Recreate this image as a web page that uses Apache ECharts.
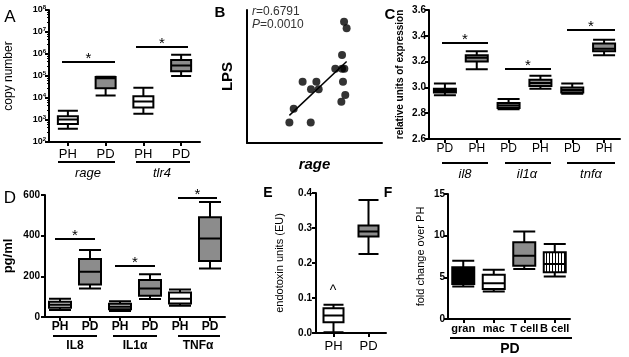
<!DOCTYPE html>
<html>
<head>
<meta charset="utf-8">
<script src="https://cdn.jsdelivr.net/npm/echarts@6/dist/echarts.min.js"></script>
<style>
  html, body { margin: 0; padding: 0; background: #fff; }
  #chart { width: 629px; height: 357px; }
</style>
</head>
<body>
<div id="chart"></div>
<script>
// panel A: copy number (log)
const aCategories = ['PH', 'PD', 'PH', 'PD'];
const aBoxes = [
  [400, 650, 1050, 1500, 2600],
  [13000, 28000, 80000, 90000, 92000],
  [1900, 3700, 7000, 12000, 29000],
  [100000, 165000, 300000, 530000, 930000]
];
const aGroups = ['rage', 'tlr4'];

// panel B: LPS vs rage scatter
const bRage = [31.4, 34.6, 41.2, 47.4, 51.4, 53.1, 47.2, 65.4, 70.4, 72.1, 70.4, 71.1, 69.9, 72.8, 71.9, 73.8];
const bLps = [15.5, 25.75, 46, 40.5, 46, 40.5, 15.5, 55.75, 55.75, 55.75, 66.25, 46, 31, 36, 91.25, 86.25];

// panel C: relative units of expression
const cCategories = ['PD', 'PH', 'PD', 'PH', 'PD', 'PH'];
const cBoxes = [
  [2.94, 2.96, 2.975, 2.99, 3.03],
  [3.14, 3.20, 3.23, 3.25, 3.28],
  [2.83, 2.84, 2.86, 2.88, 2.91],
  [2.99, 3.01, 3.035, 3.06, 3.09],
  [2.95, 2.96, 2.98, 3.00, 3.03],
  [3.25, 3.28, 3.30, 3.34, 3.37]
];
const cGroups = ['il8', 'il1α', 'tnfα'];

// panel D: pg/ml
const dCategories = ['PH', 'PD', 'PH', 'PD', 'PH', 'PD'];
const dBoxes = [
  [35, 45, 60, 75, 90],
  [140, 160, 222, 285, 330],
  [30, 38, 50, 65, 78],
  [88, 104, 140, 182, 210],
  [55, 67, 90, 120, 135],
  [238, 275, 386, 490, 565]
];
const dGroups = ['IL8', 'IL1α', 'TNFα'];

// panel E: endotoxin units
const eCategories = ['PH', 'PD'];
const eBoxes = [
  [0.002, 0.031, 0.05, 0.071, 0.081],
  [0.226, 0.276, 0.29, 0.307, 0.380]
];

// panel F: fold change over PH
const fCategories = ['gran', 'mac', 'T cell', 'B cell'];
const fBoxes = [
  [3.9, 4.2, 5.3, 6.2, 7.0],
  [3.3, 3.6, 4.3, 5.3, 5.9],
  [6.0, 6.4, 7.6, 9.2, 10.5],
  [5.1, 5.6, 6.6, 8.0, 9.0]
];

const FONT = 'Liberation Sans';
const GRAY = '#8c8c8c';

// vertical stripe fill for B cell
const stripe = document.createElement('canvas');
stripe.width = 3; stripe.height = 3;
const sctx = stripe.getContext('2d');
sctx.fillStyle = '#fff'; sctx.fillRect(0, 0, 3, 3);
sctx.fillStyle = '#000'; sctx.fillRect(0, 0, 1, 3);

function boxItems(boxes, colors) {
  return boxes.map((b, i) => ({ value: b, itemStyle: { color: colors[i] } }));
}

// least squares fit for B
const n = bRage.length;
const mx = bRage.reduce((s, v) => s + v, 0) / n;
const my = bLps.reduce((s, v) => s + v, 0) / n;
let sxy = 0, sxx = 0;
for (let i = 0; i < n; i++) { sxy += (bRage[i] - mx) * (bLps[i] - my); sxx += (bRage[i] - mx) ** 2; }
const slope = sxy / sxx, icpt = my - slope * mx;
const xMin = Math.min(...bRage), xMax = Math.max(...bRage);
const fitLine = [[xMin, icpt + slope * xMin], [xMax, icpt + slope * xMax]];

const axisLine = { show: true, lineStyle: { color: '#000', width: 2 } };
const tick = { show: true, length: 4, lineStyle: { color: '#000', width: 2 } };
const boldTick = { fontFamily: FONT, fontWeight: 'bold', fontSize: 10, color: '#000' };

function catAxis(grid, data, label) {
  return {
    type: 'category', gridIndex: grid, data: data,
    axisLine: axisLine, axisTick: Object.assign({ alignWithLabel: true, interval: 0 }, tick),
    axisLabel: Object.assign({ color: '#000', fontFamily: FONT, interval: 0 }, label),
    splitLine: { show: false }
  };
}
function valAxis(grid, opts) {
  return Object.assign({
    type: 'value', gridIndex: grid,
    axisLine: axisLine, axisTick: tick,
    splitLine: { show: false },
    nameLocation: 'middle', nameRotate: 90,
    nameTextStyle: { color: '#000', fontFamily: FONT }
  }, opts);
}

const boxBase = { type: 'boxplot', boxWidth: [20, 22], itemStyle: { borderColor: '#000', borderWidth: 2 } };

const option = {
  animation: false,
  textStyle: { fontFamily: FONT },
  grid: [
    { left: 49, top: 10, width: 151, height: 132 },
    { left: 247, top: 10, width: 135, height: 133 },
    { left: 429, top: 10, width: 191, height: 129 },
    { left: 45, top: 195, width: 180, height: 122 },
    { left: 316, top: 193, width: 70, height: 140 },
    { left: 448, top: 194, width: 122, height: 125 }
  ],
  xAxis: [
    catAxis(0, aCategories, { fontSize: 13, margin: 6 }),
    { type: 'value', gridIndex: 1, min: 0, max: 100, axisLine: axisLine, axisTick: { show: false },
      axisLabel: { show: false }, splitLine: { show: false },
      name: 'rage', nameLocation: 'middle', nameGap: 14,
      nameTextStyle: { fontFamily: FONT, fontSize: 15, fontWeight: 'bold', fontStyle: 'italic', color: '#000' } },
    catAxis(2, cCategories, { fontSize: 12, margin: 4 }),
    catAxis(3, dCategories, { fontSize: 12, fontWeight: 'bold', margin: 4 }),
    catAxis(4, eCategories, { fontSize: 13, margin: 7 }),
    catAxis(5, fCategories, { fontSize: 11, fontWeight: 'bold', margin: 4 })
  ],
  yAxis: [
    valAxis(0, {
      type: 'log', logBase: 10, min: 100, max: 1e8, interval: 1,
      minorTick: { show: true, splitNumber: 5, length: 2, lineStyle: { color: '#000' } },
      name: 'copy number', nameGap: 34, nameTextStyle: { color: '#000', fontFamily: FONT, fontSize: 12 },
      axisLabel: {
        margin: 3,
        formatter: v => '{b|10}{s|' + Math.round(Math.log(v) / Math.LN10) + '}',
        rich: {
          b: { fontFamily: FONT, fontWeight: 'bold', fontSize: 9, color: '#000' },
          s: { fontFamily: FONT, fontWeight: 'bold', fontSize: 6, color: '#000', verticalAlign: 'top', lineHeight: 12 }
        }
      }
    }),
    valAxis(1, {
      min: 0, max: 100, axisTick: { show: false }, axisLabel: { show: false },
      name: 'LPS', nameGap: 12,
      nameTextStyle: { fontFamily: FONT, fontSize: 15, fontWeight: 'bold', color: '#000' }
    }),
    valAxis(2, {
      min: 2.6, max: 3.6, interval: 0.2,
      axisLabel: Object.assign({ margin: 3, formatter: v => v.toFixed(1) }, boldTick),
      name: 'relative units of expression', nameGap: 24,
      nameTextStyle: { color: '#000', fontFamily: FONT, fontSize: 10, fontWeight: 'bold' }
    }),
    valAxis(3, {
      min: 0, max: 600, interval: 200,
      axisLabel: Object.assign({ margin: 5 }, boldTick),
      name: 'pg/ml', nameGap: 30,
      nameTextStyle: { color: '#000', fontFamily: FONT, fontSize: 13, fontWeight: 'bold' }
    }),
    valAxis(4, {
      min: 0, max: 0.4, interval: 0.1,
      axisLabel: Object.assign({ margin: 4, formatter: v => v.toFixed(1) }, boldTick),
      name: 'endotoxin units (EU)', nameGap: 31,
      nameTextStyle: { color: '#000', fontFamily: FONT, fontSize: 11 }
    }),
    valAxis(5, {
      min: 0, max: 15, interval: 5,
      axisLabel: Object.assign({ margin: 3 }, boldTick),
      name: 'fold change over PH', nameGap: 22,
      nameTextStyle: { color: '#000', fontFamily: FONT, fontSize: 11 }
    })
  ],
  series: [
    Object.assign({}, boxBase, { xAxisIndex: 0, yAxisIndex: 0, boxWidth: [18, 20],
      data: boxItems(aBoxes, ['#fff', GRAY, '#fff', GRAY]) }),
    { type: 'scatter', xAxisIndex: 1, yAxisIndex: 1, symbolSize: 8,
      itemStyle: { color: '#000' }, data: bRage.map((x, i) => [x, bLps[i]]) },
    { type: 'line', xAxisIndex: 1, yAxisIndex: 1, symbol: 'none',
      lineStyle: { color: '#000', width: 1.5 }, data: fitLine },
    Object.assign({}, boxBase, { xAxisIndex: 2, yAxisIndex: 2,
      data: boxItems(cBoxes, [GRAY, GRAY, GRAY, GRAY, GRAY, GRAY]) }),
    Object.assign({}, boxBase, { xAxisIndex: 3, yAxisIndex: 3,
      data: boxItems(dBoxes, ['#c8c8c8', GRAY, '#c8c8c8', GRAY, '#fff', GRAY]) }),
    Object.assign({}, boxBase, { xAxisIndex: 4, yAxisIndex: 4, boxWidth: [20, 20],
      data: boxItems(eBoxes, ['#fff', GRAY]) }),
    Object.assign({}, boxBase, { xAxisIndex: 5, yAxisIndex: 5,
      data: boxItems(fBoxes, ['#000', '#fff', GRAY, { image: stripe, repeat: 'repeat' }]) })
  ]
};

// annotations: panel letters, significance bars, group underlines
const g = [];
function line(x1, y1, x2, y2) {
  g.push({ type: 'line', shape: { x1: x1, y1: y1, x2: x2, y2: y2 }, style: { stroke: '#000', lineWidth: 2 } });
}
function text(x, y, t, st) {
  g.push({ type: 'text', x: x, y: y, style: Object.assign({ text: t, fill: '#000', font: '13px ' + FONT, textAlign: 'center', textVerticalAlign: 'middle' }, st || {}) });
}
function sig(x1, x2, y) {
  line(x1, y, x2, y);
  text((x1 + x2) / 2, y - 3, '*', { font: '15px ' + FONT, textVerticalAlign: 'middle' });
}

text(10, 17, 'A', { font: '17px ' + FONT });
text(220, 13, 'B', { font: 'bold 15px ' + FONT });
text(390, 15, 'C', { font: 'bold 15px ' + FONT });
text(10, 198, 'D', { font: '17px ' + FONT });
text(268, 193, 'E', { font: 'bold 14px ' + FONT });
text(388, 193, 'F', { font: 'bold 14px ' + FONT });

// A
sig(62, 115, 62); sig(136, 188, 47);
line(58, 162, 115, 162); line(136, 162, 190, 162);
text(88, 173, aGroups[0], { font: 'italic 13px ' + FONT });
text(162, 173, aGroups[1], { font: 'italic 13px ' + FONT });

// B
g.push({ type: 'text', x: 252, y: 12, style: { text: '{i|r}=0.6791', font: '12px ' + FONT, fill: '#333', textVerticalAlign: 'middle',
  rich: { i: { fontStyle: 'italic', fontSize: 12, fontFamily: FONT, fill: '#333' } } } });
g.push({ type: 'text', x: 252, y: 25, style: { text: '{i|P}=0.0010', font: '12px ' + FONT, fill: '#333', textVerticalAlign: 'middle',
  rich: { i: { fontStyle: 'italic', fontSize: 12, fontFamily: FONT, fill: '#333' } } } });

// C
sig(442, 488, 43); sig(505, 551, 69); sig(567, 615, 30);
line(442, 163, 488, 163); line(505, 163, 551, 163); line(567, 163, 615, 163);
text(465, 174, cGroups[0], { font: 'italic 13px ' + FONT });
text(527, 174, cGroups[1], { font: 'italic 13px ' + FONT });
text(591, 174, cGroups[2], { font: 'italic 13px ' + FONT });

// D
sig(55, 95, 239); sig(115, 155, 266); sig(178, 217, 198);
line(53, 336, 97, 336); line(113, 336, 157, 336); line(178, 336, 220, 336);
text(75, 346, dGroups[0], { font: 'bold 12px ' + FONT });
text(135, 346, dGroups[1], { font: 'bold 12px ' + FONT });
text(198, 346, dGroups[2], { font: 'bold 12px ' + FONT });

// E
text(333, 291, '^', { font: '14px ' + FONT });

// F
line(450, 338, 572, 338);
text(510, 349, 'PD', { font: 'bold 14px ' + FONT });

option.graphic = g;

const chart = echarts.init(document.getElementById('chart'));
chart.setOption(option);
</script>
</body>
</html>
